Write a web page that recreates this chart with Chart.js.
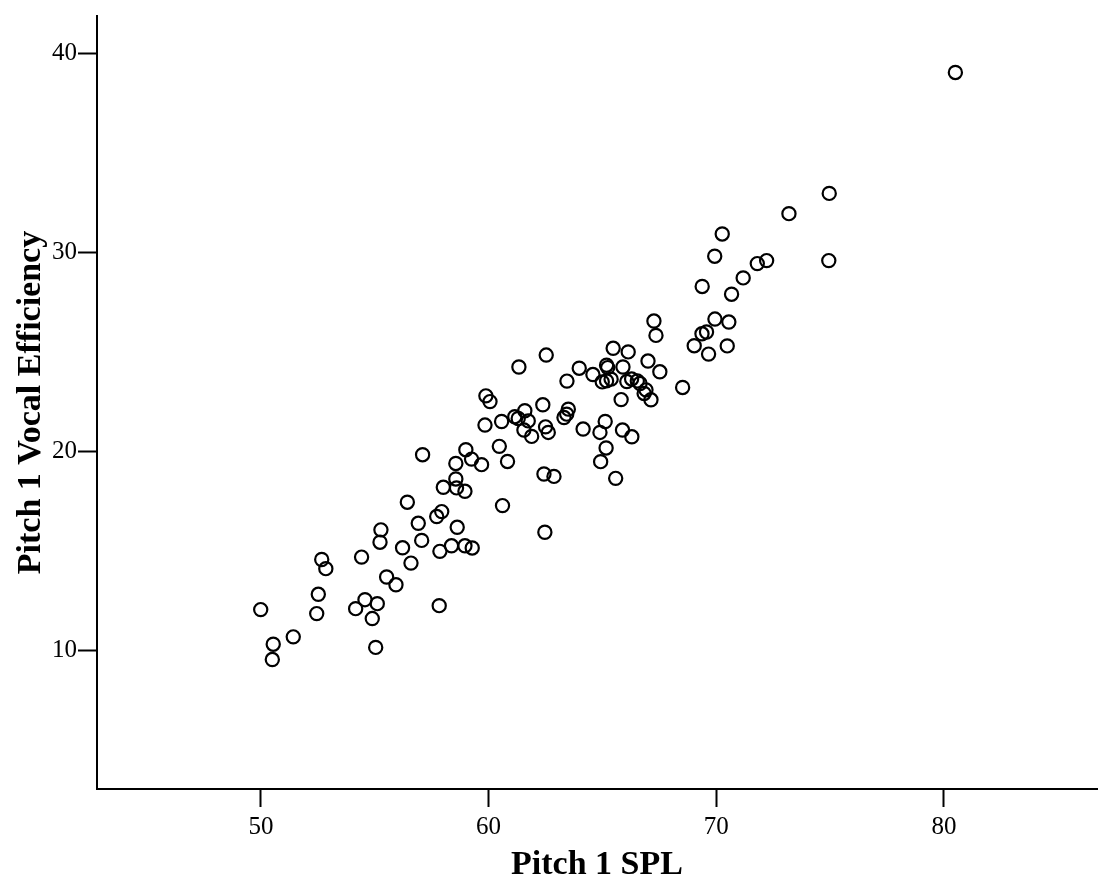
<!DOCTYPE html>
<html>
<head>
<meta charset="utf-8">
<script src="https://cdn.jsdelivr.net/npm/chart.js@4"></script>
<style>
  html, body { margin: 0; padding: 0; background: #ffffff; }
  #wrap { width: 1098px; height: 882px; }
</style>
</head>
<body>
<div id="wrap"><canvas id="c" width="1098" height="882"></canvas></div>
<script>
// Pitch 1 SPL (x) values
const splValues = [
  80.5, 74.96, 73.19, 70.26, 74.94, 69.93, 72.21, 71.80, 71.18, 69.38,
  70.67, 67.26, 67.35, 69.94, 70.55, 69.37, 69.57, 69.03, 70.48, 69.66,
  67.0, 67.52, 62.53, 65.47, 66.13, 63.98, 64.58, 65.18, 65.23, 65.90,
  63.44, 64.99, 65.18, 65.38, 66.07, 66.28, 66.53, 66.65, 66.91, 66.83,
  67.13, 65.82, 68.52, 62.38, 63.50, 63.43, 63.31, 62.50, 62.62, 64.15,
  65.12, 64.89, 65.88, 66.29, 65.16, 64.92, 62.43, 62.87, 65.58, 61.33,
  59.88, 60.06, 61.59, 61.15, 61.30, 61.74, 61.55, 61.89, 59.84, 60.57,
  60.47, 60.83, 57.10, 59.0, 59.25, 59.69, 58.56, 58.56, 58.01, 58.59,
  58.96, 60.61, 56.43, 57.72, 57.94, 56.91, 58.62, 62.47, 57.06, 58.37,
  58.96, 59.28, 57.86, 56.22, 55.27, 55.23, 52.67, 52.85, 54.42, 56.59,
  55.52, 55.93, 52.52, 52.45, 49.99, 54.57, 54.16, 55.11, 54.89, 57.83,
  55.04, 51.42, 50.54, 50.5
];
// Pitch 1 Vocal Efficiency (y) values
const efficiencyValues = [
  39.05, 32.97, 31.95, 30.93, 29.59, 29.81, 29.59, 29.44, 28.72, 28.29,
  27.90, 26.55, 25.83, 26.65, 26.50, 25.91, 26.0, 25.31, 25.30, 24.89,
  24.54, 24.0, 24.84, 25.18, 25.0, 24.18, 23.86, 24.33, 24.21, 24.24,
  23.53, 23.49, 23.54, 23.63, 23.51, 23.64, 23.54, 23.41, 23.09, 22.91,
  22.59, 22.60, 23.21, 22.34, 22.12, 21.87, 21.70, 21.23, 20.95, 21.12,
  21.50, 20.95, 21.07, 20.73, 20.17, 19.48, 18.86, 18.74, 18.64, 24.24,
  22.79, 22.50, 22.04, 21.74, 21.65, 21.53, 21.07, 20.75, 21.32, 21.50,
  20.25, 19.49, 19.83, 20.08, 19.61, 19.33, 19.39, 18.61, 18.19, 18.16,
  17.99, 17.27, 17.44, 16.72, 16.97, 16.38, 16.18, 15.93, 15.52, 15.25,
  15.25, 15.14, 14.97, 15.15, 16.05, 15.43, 14.56, 14.10, 14.68, 14.38,
  13.68, 13.29, 12.81, 11.84, 12.04, 12.54, 12.09, 12.34, 11.59, 12.24,
  10.14, 10.67, 10.30, 9.53
];
const xTickValues = [50, 60, 70, 80];
const yTickValues = [10, 20, 30, 40];
const xTitle = 'Pitch 1 SPL';
const yTitle = 'Pitch 1 Vocal Efficiency';

const points = splValues.map((x, i) => ({ x: x, y: efficiencyValues[i] }));

const tickFont = { family: 'Liberation Serif', size: 25, lineHeight: 1.2 };
const titleFont = { family: 'Liberation Serif', size: 34, weight: 'bold', lineHeight: 1 };

new Chart(document.getElementById('c'), {
  type: 'scatter',
  data: {
    datasets: [{
      data: points,
      pointStyle: 'circle',
      pointRadius: 6.6,
      pointHoverRadius: 6.6,
      pointBorderWidth: 2.2,
      pointBorderColor: '#000000',
      pointBackgroundColor: 'rgba(0,0,0,0)',
      clip: false
    }]
  },
  options: {
    responsive: false,
    devicePixelRatio: 1,
    animation: false,
    events: [],
    layout: { autoPadding: false, padding: { top: 14, right: 1, left: 0, bottom: 0 } },
    plugins: { legend: { display: false }, tooltip: { enabled: false } },
    scales: {
      x: {
        type: 'linear',
        min: 42.80,
        max: 86.72,
        afterBuildTicks: (s) => { s.ticks = xTickValues.map(v => ({ value: v })); },
        afterFit: (s) => { s.height = 93; },
        ticks: { color: '#000000', font: tickFont, padding: 5 },
        grid: { drawOnChartArea: false, drawTicks: true, tickLength: 18, tickWidth: 2, tickColor: '#000000' },
        border: { display: true, color: '#000000', width: 2 },
        title: { display: true, text: xTitle, color: '#000000', font: titleFont, padding: { top: 0, bottom: 0 } }
      },
      y: {
        type: 'linear',
        min: 3.02,
        max: 41.89,
        afterBuildTicks: (s) => { s.ticks = yTickValues.map(v => ({ value: v })); },
        afterFit: (s) => { s.width = 97; },
        ticks: { color: '#000000', font: tickFont, padding: 1 },
        grid: { drawOnChartArea: false, drawTicks: true, tickLength: 19, tickWidth: 2, tickColor: '#000000' },
        border: { display: true, color: '#000000', width: 2 },
        title: { display: true, text: yTitle, color: '#000000', font: titleFont, padding: { top: 14, bottom: 0 } }
      }
    }
  }
});
</script>
</body>
</html>
